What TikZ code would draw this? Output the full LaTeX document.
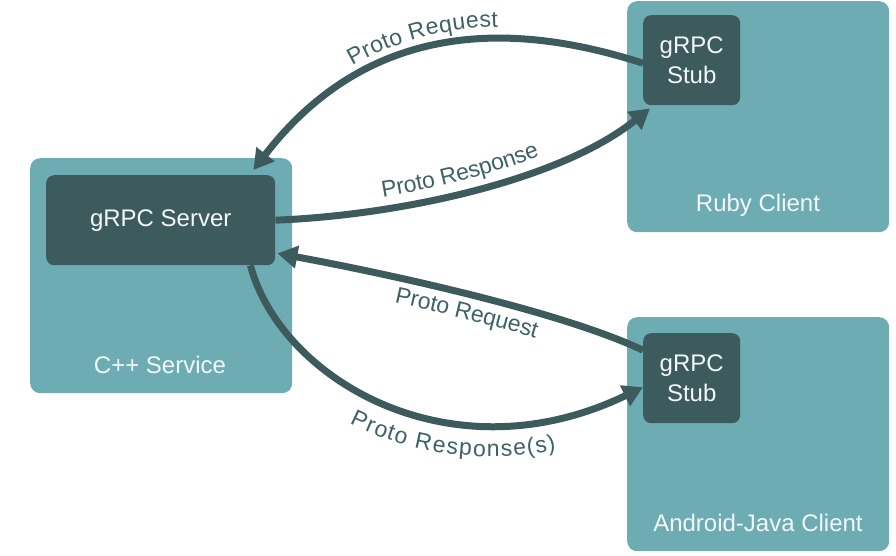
\documentclass[tikz,border=0pt]{standalone}
\usepackage{fontspec}
\setmainfont{Liberation Sans}
\usetikzlibrary{arrows.meta,calc,decorations.text}
\definecolor{boxlight}{RGB}{110,172,179}
\definecolor{boxdark}{RGB}{61,91,92}
\definecolor{labc}{RGB}{62,98,100}
\definecolor{boxtext}{RGB}{242,247,247}
\newcommand{\lblfont}{\fontsize{23}{23}\selectfont}
\begin{document}
\begin{tikzpicture}[x=1pt,y=-1pt,
  outerbox/.style={fill=boxlight, rounded corners=10pt, inner sep=0pt, anchor=north west},
  innerbox/.style={fill=boxdark, rounded corners=8pt, inner sep=0pt, anchor=north west,
    text=boxtext, font=\fontsize{24}{30}\selectfont, align=center},
  boxlabel/.style={text=boxtext, font=\fontsize{24}{30}\selectfont, text height=17pt, text depth=0pt, inner sep=0pt},
  conn/.style={draw=boxdark, line width=7pt, -{Triangle[length=20pt,width=22pt]}}
]
\useasboundingbox (0,0) rectangle (896,556);

% outer boxes
\node[outerbox, minimum width=262pt, minimum height=235pt] (cpp) at (30,158) {};
\node[outerbox, minimum width=262pt, minimum height=231pt] (ruby) at (627,1) {};
\node[outerbox, minimum width=262pt, minimum height=234pt] (android) at (627,317) {};

% inner boxes
\node[innerbox, minimum width=229pt, minimum height=90pt] (srv) at (46,175) {gRPC Server};
\node[innerbox, minimum width=97pt, minimum height=90pt] (stub1) at (643,15) {gRPC\\Stub};
\node[innerbox, minimum width=97pt, minimum height=90pt] (stub2) at (643,333) {gRPC\\Stub};

% box captions
\node[boxlabel] (cpplbl) at (160,365) {C++ Service};
\node[boxlabel] (rubylbl) at (758,203) {Ruby Client};
\node[boxlabel] (androidlbl) at (758,523) {Android-Java Client};

% connectors
\draw[conn] ($(stub1.west)+(0,3)$) .. controls +(-103,-33) and +(127,-165) .. ($(srv.north east)+(-22,-5)$);
\draw[conn] (srv.east) .. controls +(125,-5) and +(-90,72) .. ($(stub1.south west)+(7,3)$);
\draw[conn] ($(stub2.west)+(0,-28)$) .. controls +(-85,-40) and +(103,19) .. ($(srv.south east)+(2,-12)$);
\draw[conn] ($(srv.south east)+(-25,0)$) .. controls +(30,113) and +(-193,93) .. ($(stub2.west)+(0,9)$);

% labels along the connectors
\path[decorate, decoration={text along path, text={|\lblfont\color{labc}|Proto Request},
    text align={left indent=141pt}, raise=12pt}]
  ($(srv.north east)+(-22,-5)$) .. controls +(127,-165) and +(-103,-33) .. ($(stub1.west)+(0,3)$);
\path[decorate, decoration={text along path, text={|\lblfont\color{labc}|Proto Response},
    text align={left indent=110pt}, raise=12pt}]
  (srv.east) .. controls +(125,-5) and +(-90,72) .. ($(stub1.south west)+(7,3)$);
\path[decorate, decoration={text along path, text={|\lblfont\color{labc}|Proto Request},
    text align={left indent=125pt}, raise=-25pt}]
  ($(srv.south east)+(2,-12)$) .. controls +(103,19) and +(-85,-40) .. ($(stub2.west)+(0,-28)$);
\path[decorate, decoration={text along path, text={|\lblfont\color{labc}|Proto Response(s)},
    text align={left indent=176pt}, raise=-33pt}]
  ($(srv.south east)+(-25,0)$) .. controls +(30,113) and +(-193,93) .. ($(stub2.west)+(0,9)$);
\end{tikzpicture}
\end{document}
